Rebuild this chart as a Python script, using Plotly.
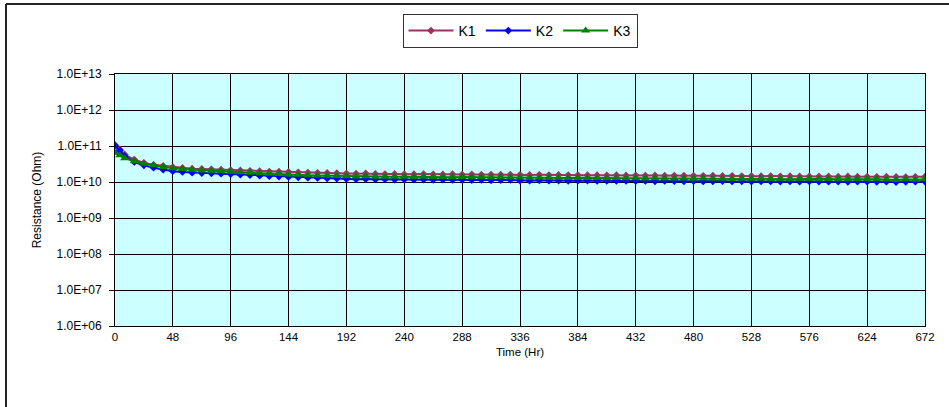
import plotly.graph_objects as go

# ---- data ----
hours = [0, 4, 8, 16, 24, 32, 40, 48, 56, 64, 72, 80, 88, 96, 104, 112, 120, 128, 136, 144,
         152, 160, 168, 176, 184, 192, 200, 208, 216, 224, 232, 240, 248, 256, 264, 272, 280,
         288, 296, 304, 312, 320, 328, 336, 344, 352, 360, 368, 376, 384, 392, 400, 408, 416,
         424, 432, 440, 448, 456, 464, 472, 480, 488, 496, 504, 512, 520, 528, 536, 544, 552,
         560, 568, 576, 584, 592, 600, 608, 616, 624, 632, 640, 648, 656, 664, 672]

k1 = [10.7e10, 8.0e10, 5.8e10, 4.2e10, 3.4e10, 3.0e10, 2.8e10, 2.6e10, 2.45e10, 2.35e10,
      2.3e10, 2.25e10, 2.2e10, 2.15e10, 2.1e10, 2.05e10, 2.0e10, 1.95e10, 1.93e10, 1.9e10,
      1.86e10, 1.83e10, 1.8e10, 1.78e10, 1.75e10, 1.72e10, 1.7e10, 1.72e10, 1.68e10, 1.66e10,
      1.67e10, 1.65e10, 1.64e10, 1.66e10, 1.63e10, 1.62e10, 1.64e10, 1.61e10, 1.62e10, 1.6e10,
      1.61e10, 1.59e10, 1.6e10, 1.58e10, 1.57e10, 1.58e10, 1.56e10, 1.57e10, 1.55e10, 1.56e10,
      1.54e10, 1.55e10, 1.53e10, 1.54e10, 1.52e10, 1.53e10, 1.51e10, 1.52e10, 1.5e10, 1.51e10,
      1.49e10, 1.5e10, 1.48e10, 1.49e10, 1.47e10, 1.48e10, 1.46e10, 1.47e10, 1.45e10, 1.46e10,
      1.44e10, 1.45e10, 1.43e10, 1.44e10, 1.42e10, 1.43e10, 1.41e10, 1.42e10, 1.4e10, 1.41e10,
      1.39e10, 1.4e10, 1.38e10, 1.37e10, 1.39e10, 1.4e10]

k2 = [10.2e10, 7.5e10, 5.2e10, 3.6e10, 2.9e10, 2.5e10, 2.2e10, 2.0e10, 1.9e10, 1.82e10,
      1.78e10, 1.74e10, 1.7e10, 1.66e10, 1.6e10, 1.55e10, 1.5e10, 1.45e10, 1.42e10, 1.38e10,
      1.35e10, 1.32e10, 1.3e10, 1.27e10, 1.25e10, 1.22e10, 1.2e10, 1.21e10, 1.18e10, 1.19e10,
      1.17e10, 1.18e10, 1.16e10, 1.17e10, 1.15e10, 1.16e10, 1.14e10, 1.15e10, 1.13e10, 1.14e10,
      1.12e10, 1.13e10, 1.14e10, 1.1e10, 1.09e10, 1.11e10, 1.09e10, 1.1e10, 1.08e10, 1.09e10,
      1.1e10, 1.07e10, 1.08e10, 1.07e10, 1.08e10, 1.06e10, 1.07e10, 1.05e10, 1.07e10, 1.06e10,
      1.05e10, 1.06e10, 1.04e10, 1.05e10, 1.06e10, 1.04e10, 1.05e10, 1.03e10, 1.05e10, 1.04e10,
      1.03e10, 1.04e10, 1.02e10, 1.04e10, 1.03e10, 1.02e10, 1.03e10, 1.01e10, 1.03e10, 1.02e10,
      1.01e10, 1.02e10, 1.0e10, 1.01e10, 1.02e10, 1.03e10]

k3 = [6.5e10, 5.5e10, 4.6e10, 3.8e10, 3.2e10, 2.9e10, 2.6e10, 2.4e10, 2.3e10, 2.2e10,
      2.1e10, 2.05e10, 1.98e10, 1.92e10, 1.86e10, 1.8e10, 1.75e10, 1.7e10, 1.66e10, 1.62e10,
      1.58e10, 1.55e10, 1.52e10, 1.5e10, 1.47e10, 1.45e10, 1.42e10, 1.44e10, 1.4e10, 1.41e10,
      1.39e10, 1.4e10, 1.38e10, 1.39e10, 1.37e10, 1.38e10, 1.36e10, 1.37e10, 1.35e10, 1.36e10,
      1.34e10, 1.35e10, 1.33e10, 1.34e10, 1.32e10, 1.33e10, 1.31e10, 1.32e10, 1.3e10, 1.31e10,
      1.29e10, 1.3e10, 1.28e10, 1.29e10, 1.27e10, 1.28e10, 1.26e10, 1.27e10, 1.25e10, 1.26e10,
      1.25e10, 1.24e10, 1.25e10, 1.23e10, 1.24e10, 1.22e10, 1.23e10, 1.22e10, 1.23e10, 1.21e10,
      1.22e10, 1.2e10, 1.21e10, 1.22e10, 1.2e10, 1.21e10, 1.19e10, 1.2e10, 1.21e10, 1.19e10,
      1.2e10, 1.18e10, 1.14e10, 1.19e10, 1.16e10, 1.2e10]

x_ticks = [0, 48, 96, 144, 192, 240, 288, 336, 384, 432, 480, 528, 576, 624, 672]
y_tickvals = [1e6, 1e7, 1e8, 1e9, 1e10, 1e11, 1e12, 1e13]
y_ticktext = ["1.0E+06", "1.0E+07", "1.0E+08", "1.0E+09", "1.0E+10", "1.0E+11", "1.0E+12", "1.0E+13"]

FONT = "Liberation Sans, Arial, sans-serif"

fig = go.Figure()
fig.add_trace(go.Scatter(x=hours, y=k1, name="K1", mode="lines+markers",
                         line=dict(color="#993366", width=2),
                         marker=dict(symbol="diamond", size=6, color="#993366")))
fig.add_trace(go.Scatter(x=hours, y=k2, name="K2", mode="lines+markers",
                         line=dict(color="#0000FF", width=2),
                         marker=dict(symbol="diamond", size=6, color="#0000FF")))
fig.add_trace(go.Scatter(x=hours, y=k3, name="K3", mode="lines+markers",
                         line=dict(color="#008000", width=2),
                         marker=dict(symbol="triangle-up", size=8, color="#008000")))

L, R, T, B = 115, 925, 74, 326
W, H = 949, 407


def px(xp):
    return (xp - L) / (R - L)


def py(yp):
    return (B - yp) / (B - T)


fig.update_layout(
    width=W, height=H,
    margin=dict(l=L, r=W - R, t=T, b=H - B),
    paper_bgcolor="white",
    plot_bgcolor="#CCFFFF",
    font=dict(family=FONT, size=12, color="black"),
    showlegend=True,
    legend=dict(orientation="h", x=0.5, xanchor="center", y=py(14), yanchor="top",
                bgcolor="white", bordercolor="#333333", borderwidth=1,
                font=dict(family=FONT, size=14), itemwidth=45,
                tracegroupgap=0),
    xaxis=dict(range=[0, 672], tickvals=x_ticks, showgrid=True, gridcolor="black", gridwidth=1,
               showline=True, linecolor="black", linewidth=1, mirror=True, ticks="",
               zeroline=False, tickfont=dict(size=11.5),
               title=dict(text="Time (Hr)", font=dict(size=11.5), standoff=6)),
    yaxis=dict(type="log", range=[6, 13], tickvals=y_tickvals, ticktext=y_ticktext,
               showgrid=True, gridcolor="black", gridwidth=1,
               showline=True, linecolor="black", linewidth=1, mirror=True,
               ticks="outside", ticklen=5, tickcolor="black", ticklabelstandoff=5,
               zeroline=False, tickfont=dict(size=12),
               title=dict(text="Resistance (Ohm)", font=dict(size=12), standoff=12)),
    shapes=[
        dict(type="line", xref="paper", yref="paper", x0=px(6), x1=px(W + 5), y0=py(4), y1=py(4),
             line=dict(color="#222222", width=2)),
        dict(type="line", xref="paper", yref="paper", x0=px(6), x1=px(6), y0=py(4), y1=py(H + 5),
             line=dict(color="#222222", width=2)),
    ],
)

fig.write_html("out.html")
